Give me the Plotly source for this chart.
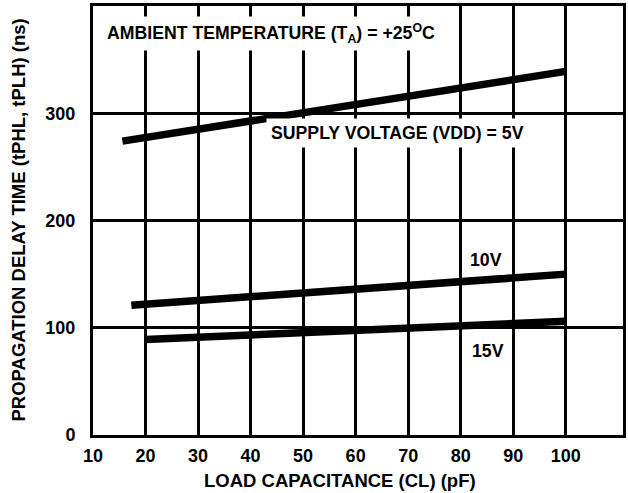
import plotly.graph_objects as go

# Data
cap_5v = [15.6, 100]
delay_5v = [274, 339]
cap_10v = [17.3, 100]
delay_10v = [121, 150]
cap_15v = [20, 100]
delay_15v = [89, 106]

x_ticks = [10, 20, 30, 40, 50, 60, 70, 80, 90, 100]
y_ticks = [0, 100, 200, 300]

FONT = "Liberation Sans, Arial, sans-serif"
FS = 18.5
FS_ANN = 17.7

fig = go.Figure()
for xs, ys in [(cap_5v, delay_5v), (cap_10v, delay_10v), (cap_15v, delay_15v)]:
    fig.add_trace(go.Scatter(x=xs, y=ys, mode="lines",
                             line=dict(color="black", width=7.5),
                             showlegend=False, hoverinfo="skip"))

ann_style = dict(showarrow=False, bgcolor="white", borderpad=4,
                 font=dict(family=FONT, size=FS_ANN, color="black"))
fig.add_annotation(x=11.7, y=374, xanchor="left", yanchor="middle",
                   text="<b>AMBIENT TEMPERATURE (T<sub>A</sub>) = +25<sup>O</sup>C</b>", **ann_style)
fig.add_annotation(x=42.9, y=281.6, xanchor="left", yanchor="middle",
                   text="<b>SUPPLY VOLTAGE (VDD) = 5V</b>", **ann_style)
fig.add_annotation(x=84.8, y=163, xanchor="center", yanchor="middle",
                   text="<b>10V</b>", **ann_style)
fig.add_annotation(x=85.2, y=78.6, xanchor="center", yanchor="middle",
                   text="<b>15V</b>", **ann_style)

# Axis titles
fig.add_annotation(xref="paper", yref="paper", x=0.466, y=0, yshift=-45,
                   xanchor="center", yanchor="middle", showarrow=False,
                   text="<b>LOAD CAPACITANCE (CL) (pF)</b>",
                   font=dict(family=FONT, size=FS, color="black"))
fig.add_annotation(xref="paper", yref="paper", x=0, xshift=-75, y=0.5,
                   xanchor="center", yanchor="middle", showarrow=False, textangle=-90,
                   text="<b>PROPAGATION DELAY TIME (tPHL, tPLH) (ns)</b>",
                   font=dict(family=FONT, size=FS, color="black"))

fig.update_layout(
    width=628, height=493,
    margin=dict(l=93, r=5, t=6, b=58, autoexpand=False),
    paper_bgcolor="white", plot_bgcolor="white",
    font=dict(family=FONT, size=18, color="black"),
    xaxis=dict(range=[10, 110.9], tickvals=x_ticks,
               ticktext=[f"<b>{v}</b>" for v in x_ticks],
               showgrid=True, gridcolor="black", gridwidth=2.5,
               showline=True, linecolor="black", linewidth=3, mirror=True,
               zeroline=False, ticks="", ticklabelstandoff=2, automargin=False),
    yaxis=dict(range=[0, 400], tickvals=y_ticks,
               ticktext=[f"<b>{v}</b>" for v in y_ticks],
               showgrid=True, gridcolor="black", gridwidth=2.5,
               showline=True, linecolor="black", linewidth=3, mirror=True,
               zeroline=False, ticks="", ticklabelstandoff=11, automargin=False),
)

fig.write_html("out.html", config={"displayModeBar": False},
               post_script="document.body.style.margin='0px';")
